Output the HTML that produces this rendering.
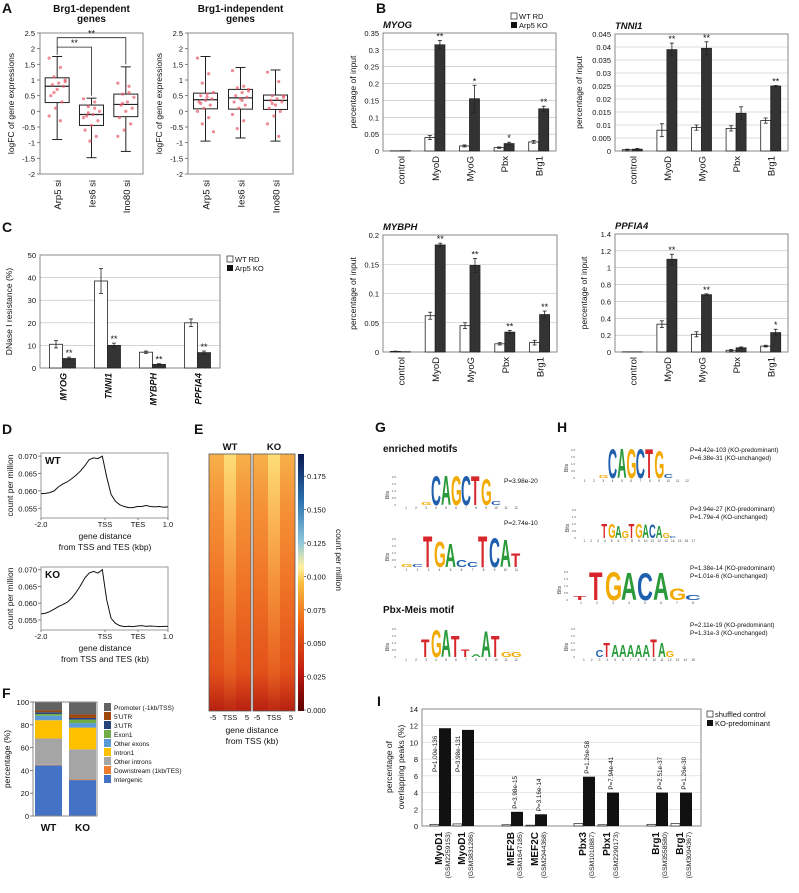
<!DOCTYPE html>
<html><head><meta charset="utf-8"><title>Arp5 KO figure</title>
<style>
html,body{margin:0;padding:0;background:#fff;}
svg{display:block;font-family:"Liberation Sans",Arial,sans-serif;}
</style></head>
<body>
<svg id="fig" width="799" height="893" viewBox="0 0 799 893" xmlns="http://www.w3.org/2000/svg">
<defs>
<linearGradient id="hmBase" x1="0" y1="0" x2="0" y2="1">
<stop offset="0" stop-color="#f6b04a"/><stop offset="0.2" stop-color="#f59238"/>
<stop offset="0.5" stop-color="#f07426"/><stop offset="0.85" stop-color="#e2501a"/><stop offset="1" stop-color="#b82010"/>
</linearGradient>
<linearGradient id="hmStripe" x1="0" y1="0" x2="0" y2="1">
<stop offset="0" stop-color="#fff08a" stop-opacity="0.7"/><stop offset="0.5" stop-color="#ffc860" stop-opacity="0.35"/><stop offset="1" stop-color="#ffb040" stop-opacity="0.05"/>
</linearGradient>
<radialGradient id="hmTop" cx="0.5" cy="0" r="0.5">
<stop offset="0" stop-color="#3a78b8" stop-opacity="0.95"/><stop offset="0.4" stop-color="#9cc8d8" stop-opacity="0.7"/><stop offset="1" stop-color="#f8e080" stop-opacity="0"/>
</radialGradient>
<linearGradient id="cbar" x1="0" y1="1" x2="0" y2="0">
<stop offset="0" stop-color="#5a0000"/><stop offset="0.15" stop-color="#c01a10"/><stop offset="0.35" stop-color="#ee6a18"/>
<stop offset="0.5" stop-color="#f8c040"/><stop offset="0.56" stop-color="#fff2a0"/><stop offset="0.66" stop-color="#8cc4dc"/>
<stop offset="0.82" stop-color="#2a70b0"/><stop offset="1" stop-color="#0a1850"/>
</linearGradient>
<clipPath id="clipWT"><rect x="209" y="454" width="42" height="257"/></clipPath>
<clipPath id="clipKO"><rect x="253" y="454" width="42" height="257"/></clipPath>
</defs>
</svg>
<script>
// ---------- data ----------
const boxCatsA = ["Arp5 si","Ies6 si","Ino80 si"];
const boxA1 = [[-0.9,0.28,0.8,1.07,1.75],[-1.48,-0.45,-0.1,0.2,0.42],[-1.28,-0.17,0.22,0.55,1.42]];
const boxA2 = [[-0.95,0.08,0.37,0.58,1.75],[-0.85,0.07,0.43,0.7,1.4],[-0.95,0.06,0.35,0.52,1.32]];
const dotsA1 = [[1.7,1.4,1.1,1.0,0.9,0.85,0.8,0.7,0.5,0.3,0.1,-0.15,-0.3,0.6,0.95],
 [0.4,0.3,0.15,0.0,-0.1,-0.15,-0.3,-0.45,-0.6,-0.8,-0.95,-0.2,0.1,-0.05],
 [0.9,0.8,0.55,0.45,0.3,0.2,0.1,0.0,-0.2,-0.4,-0.6,-0.8,0.6,0.25]];
const dotsA2 = [[1.7,1.2,0.9,0.6,0.55,0.5,0.4,0.35,0.3,0.2,0.1,0.0,-0.2,-0.4,-0.65,0.45,0.25],
 [1.3,0.8,0.75,0.7,0.6,0.5,0.45,0.4,0.3,0.2,0.1,-0.1,-0.3,-0.55,0.65,0.35],
 [1.25,0.95,0.5,0.45,0.4,0.35,0.3,0.2,0.1,0.0,-0.15,-0.4,-0.8,0.25,0.5]];
const ticksA = ["-2","-1.5","-1","-0.5","0","0.5","1","1.5","2","2.5"];

const catsB = ["control","MyoD","MyoG","Pbx","Brg1"];
const myogWT = [0.0005,0.040,0.015,0.010,0.027], myogKO = [0.001,0.315,0.155,0.022,0.125];
const myogWTe = [0,0.006,0.003,0.002,0.004], myogKOe = [0,0.013,0.04,0.004,0.008];
const myogStars = ["","**","*","*","**"];
const myogTicks = ["0","0.05","0.1","0.15","0.2","0.25","0.3","0.35"];
const tnniWT = [0.0005,0.008,0.009,0.0087,0.0117], tnniKO = [0.0007,0.039,0.0395,0.0145,0.025];
const tnniWTe = [0.0002,0.0025,0.001,0.001,0.001], tnniKOe = [0.0003,0.0025,0.0025,0.0025,0.0002];
const tnniStars = ["","**","**","","**"];
const tnniTicks = ["0","0.005","0.01","0.015","0.02","0.025","0.03","0.035","0.04","0.045"];
const mybWT = [0.001,0.062,0.045,0.014,0.016], mybKO = [0.0005,0.183,0.148,0.034,0.064];
const mybWTe = [0.0005,0.006,0.005,0.002,0.004], mybKOe = [0,0.003,0.012,0.003,0.006];
const mybStars = ["","**","**","**","**"];
const mybTicks = ["0","0.05","0.1","0.15","0.2"];
const ppfWT = [0.002,0.33,0.21,0.02,0.07], ppfKO = [0.002,1.1,0.68,0.05,0.23];
const ppfWTe = [0,0.04,0.03,0.01,0.01], ppfKOe = [0,0.06,0.01,0.01,0.04];
const ppfStars = ["","**","**","","*"];
const ppfTicks = ["0","0.2","0.4","0.6","0.8","1","1.2","1.4"];

const catsC = ["MYOG","TNNI1","MYBPH","PPFIA4"];
const dnWT = [10.5,38.5,7,20], dnKO = [4.2,10,1.6,6.8];
const dnWTe = [1.6,5.5,0.5,1.7], dnKOe = [0.6,1,0.3,0.7];
const dnStars = ["**","**","**","**"];
const dnTicks = ["0","10","20","30","40","50"];

const profWT = [0.0592,0.0593,0.0595,0.0600,0.0612,0.0620,0.0626,0.0635,0.0645,0.0657,0.0672,0.0690,0.0695,0.0693,0.0700,0.0640,0.0590,0.0570,0.0560,0.0555,0.0552,0.0552,0.0555,0.0555,0.0558,0.0555,0.0554,0.0555,0.0553,0.0554];
const profKO = [0.0568,0.0570,0.0575,0.0582,0.0590,0.0596,0.0603,0.0615,0.0632,0.0652,0.0675,0.0690,0.0695,0.0690,0.0700,0.0610,0.0555,0.0540,0.0533,0.0530,0.0531,0.0530,0.0532,0.0533,0.0531,0.0532,0.0531,0.0530,0.0531,0.0531];
const profTicks = ["0.055","0.060","0.065","0.070"];
const cbTicks = ["0.000","0.025","0.050","0.075","0.100","0.125","0.150","0.175"];

const annoCats = ["Intergenic","Downstream (1kb/TES)","Other introns","Intron1","Other exons","Exon1","3'UTR","5'UTR","Promoter (-1kb/TSS)"];
const annoColors = ["#4472c4","#ed7d31","#a5a5a5","#ffc000","#5b9bd5","#70ad47","#264478","#9e480e","#636363"];
const annoWT = [44.5,0.5,23,16,4,1.5,1.5,1.5,7.5];
const annoKO = [31.5,0.5,26.5,19,4,3,1.5,3,10.5];

const ovCats = ["MyoD1","MyoD1","MEF2B","MEF2C","Pbx3","Pbx1","Brg1","Brg1"];
const ovGsm = ["(GSM2259153)","(GSM3831286)","(GSM1647185)","(GSM2944368)","(GSM1010887)","(GSM2290173)","(GSM3558580)","(GSM3094367)"];
const ovShuf = [0.2,0.25,0.15,0.1,0.3,0.15,0.2,0.3];
const ovKO = [11.7,11.5,1.7,1.4,5.9,4.0,4.0,4.0];
const ovP = ["P=1.00e-136","P=3.98e-131","P=3.98e-15","P=3.16e-14","P=1.26e-58","P=7.94e-41","P=2.51e-37","P=1.26e-30"];
const ovTicks = ["0","2","4","6","8","10","12","14"];

// ---------- helpers ----------
const NS = "http://www.w3.org/2000/svg";
const svg = document.getElementById("fig");
function mk(tag, attrs, name, parent) {
  const el = document.createElementNS(NS, tag);
  for (const k in attrs) el.setAttribute(k, attrs[k]);
  
  
  (parent || svg).appendChild(el);
  return el;
}
function tx(x, y, s, attrs, name, parent) {
  const a = Object.assign({x: x, y: y, "font-size": 8, fill: "#111"}, attrs || {});
  const el = mk("text", a, name, parent);
  el.textContent = s;
  return el;
}
function rtx(x, y, s, attrs, name) {
  const a = Object.assign({transform: "rotate(-90 " + x + " " + y + ")"}, attrs || {});
  return tx(x, y, s, a, name);
}
function line(x1,y1,x2,y2,st,w,name){return mk("line",{x1:x1,y1:y1,x2:x2,y2:y2,stroke:st,"stroke-width":w},name);}

// panel letters
[["A",2,13],["B",376,13],["C",2,232],["D",2,434],["E",194,434],["F",2,698],["G",375,432],["H",557,432],["I",377,706]].forEach(p=>{
  tx(p[1],p[2],p[0],{"font-size":14,"font-weight":"bold"},"panel-label-"+p[0].toLowerCase());
});

// ---------- Panel A ----------
function boxPanel(x0, x1, boxes, dots, title1, title2, key) {
  const yT = 33, yB = 174;
  const ys = v => yB - (v + 2) / 4.5 * (yB - yT);
  mk("rect",{x:x0,y:yT,width:x1-x0,height:yB-yT,fill:"none",stroke:"#888","stroke-width":1},key+"-plot-frame");
  ticksA.forEach((t,i)=>{
    const v = -2 + i*0.5;
    line(x0-3,ys(v),x0,ys(v),"#666",0.8,key+"-y-tick");
    tx(x0-5,ys(v)+3,t,{"text-anchor":"end","font-size":7.5},key+"-y-tick-label");
  });
  tx((x0+x1)/2,12,title1,{"text-anchor":"middle","font-size":10,"font-weight":"bold"},key+"-title");
  tx((x0+x1)/2,22,title2,{"text-anchor":"middle","font-size":10,"font-weight":"bold"},key+"-title-line2");
  rtx(x0-26,(yT+yB)/2,"logFC of gene expressions",{"text-anchor":"middle","font-size":8.5},key+"-y-axis-title");
  const gw = (x1-x0)/3;
  boxes.forEach((b,i)=>{
    const cx = x0 + gw*(i+0.5);
    line(cx,ys(b[0]),cx,ys(b[4]),"#222",1,key+"-whisker");
    line(cx-5,ys(b[0]),cx+5,ys(b[0]),"#222",1,key+"-whisker-cap-low");
    line(cx-5,ys(b[4]),cx+5,ys(b[4]),"#222",1,key+"-whisker-cap-high");
    mk("rect",{x:cx-12,y:ys(b[3]),width:24,height:ys(b[1])-ys(b[3]),fill:"#fff",stroke:"#222","stroke-width":1},key+"-box-"+i);
    line(cx-12,ys(b[2]),cx+12,ys(b[2]),"#222",1.2,key+"-median");
    dots[i].forEach((d,j)=>{
      const off = ((j*7)%11 - 5) * 1.6;
      mk("circle",{cx:cx+off,cy:ys(d),r:1.6,fill:"#e85a6a","fill-opacity":0.7},key+"-dot");
    });
    rtx(cx+4,180,boxCatsA[i],{"text-anchor":"end","font-size":9.5},key+"-x-label");
  });
  return ys;
}
const ysA = boxPanel(40,143,boxA1,dotsA1,"Brg1-dependent","genes","boxplot-dependent");
boxPanel(188,293,boxA2,dotsA2,"Brg1-independent","genes","boxplot-independent");
(function(){
  const c0=40+103/6, c1=40+103/2, c2=40+103*5/6;
  const y1=ysA(2.05), y2=ysA(2.35);
  mk("polyline",{points:`${c0},${ysA(1.8)} ${c0},${y1} ${c1},${y1} ${c1},${ysA(0.5)}`,fill:"none",stroke:"#222","stroke-width":0.8},"sig-bracket-ies6");
  mk("polyline",{points:`${c0},${y1} ${c0},${y2} ${c2},${y2} ${c2},${ysA(1.5)}`,fill:"none",stroke:"#222","stroke-width":0.8},"sig-bracket-ino80");
  tx((c0+c1)/2,y1-1,"**",{"text-anchor":"middle","font-size":9},"sig-stars-ies6");
  tx((c0+c2)/2,y2-1,"**",{"text-anchor":"middle","font-size":9},"sig-stars-ino80");
})();

// ---------- Bar chart helper (B, C) ----------
function barChart(o) {
  const ys = v => o.yB - v / o.max * (o.yB - o.yT);
  const n = o.cats.length, gw = (o.x1 - o.x0) / n;
  o.ticks.forEach((t,i)=>{
    const v = o.max * i / (o.ticks.length-1);
    if (i>0) line(o.x0,ys(v),o.x1,ys(v),"#bbb",0.6,o.key+"-gridline");
    tx(o.x0-4,ys(v)+3,t,{"text-anchor":"end","font-size":7.5},o.key+"-y-tick-label");
  });
  mk("rect",{x:o.x0,y:o.yT,width:o.x1-o.x0,height:o.yB-o.yT,fill:"none",stroke:"#888","stroke-width":1},o.key+"-plot-frame");
  o.cats.forEach((c,i)=>{
    const cx = o.x0 + gw*(i+0.5);
    const pairs = [[o.wt[i],o.wte[i],cx-o.bw,"#fff","wt"],[o.ko[i],o.koe[i],cx,"#333","ko"]];
    pairs.forEach(p=>{
      mk("rect",{x:p[2],y:ys(p[0]),width:o.bw,height:o.yB-ys(p[0]),fill:p[3],stroke:"#222","stroke-width":0.8},o.key+"-bar-"+p[4]+"-"+c.toLowerCase());
      if (p[1]>0){
        const ex = p[2]+o.bw/2;
        line(ex,ys(p[0]+p[1]),ex,ys(Math.max(0,p[0]-p[1])),"#222",0.8,o.key+"-error-bar");
        line(ex-2,ys(p[0]+p[1]),ex+2,ys(p[0]+p[1]),"#222",0.8,o.key+"-error-cap");
        line(ex-2,ys(Math.max(0,p[0]-p[1])),ex+2,ys(Math.max(0,p[0]-p[1])),"#222",0.8,o.key+"-error-cap");
      }
    });
    if (o.stars[i]) tx(cx+o.bw/2,ys(o.ko[i]+o.koe[i])-1,o.stars[i],{"text-anchor":"middle","font-size":9},o.key+"-sig-stars");
    rtx(cx+4,o.yB+5,c,{"text-anchor":"end","font-size":o.catSize||9.5,"font-style":o.italic?"italic":"normal","font-weight":o.italic?"bold":"normal"},o.key+"-x-label");
  });
  if (o.title) tx(o.x0,o.yT-5,o.title,{"font-size":9.5,"font-weight":"bold","font-style":"italic"},o.key+"-title");
  rtx(o.ylabX,(o.yT+o.yB)/2,o.ylab,{"text-anchor":"middle","font-size":8.5},o.key+"-y-axis-title");
}
barChart({key:"chip-myog",x0:383,x1:556,yT:33,yB:151,max:0.35,ticks:myogTicks,cats:catsB,wt:myogWT,ko:myogKO,wte:myogWTe,koe:myogKOe,stars:myogStars,bw:10,title:"MYOG",ylab:"percentage of input",ylabX:356});
barChart({key:"chip-tnni1",x0:615,x1:788,yT:34,yB:151,max:0.045,ticks:tnniTicks,cats:catsB,wt:tnniWT,ko:tnniKO,wte:tnniWTe,koe:tnniKOe,stars:tnniStars,bw:10,title:"TNNI1",ylab:"percentage of input",ylabX:582});
barChart({key:"chip-mybph",x0:383,x1:557,yT:235,yB:352,max:0.2,ticks:mybTicks,cats:catsB,wt:mybWT,ko:mybKO,wte:mybWTe,koe:mybKOe,stars:mybStars,bw:10,title:"MYBPH",ylab:"percentage of input",ylabX:356});
barChart({key:"chip-ppfia4",x0:615,x1:788,yT:234,yB:352,max:1.4,ticks:ppfTicks,cats:catsB,wt:ppfWT,ko:ppfKO,wte:ppfWTe,koe:ppfKOe,stars:ppfStars,bw:10,title:"PPFIA4",ylab:"percentage of input",ylabX:587});
barChart({key:"dnase",x0:40,x1:220,yT:255,yB:368,max:50,ticks:dnTicks,cats:catsC,wt:dnWT,ko:dnKO,wte:dnWTe,koe:dnKOe,stars:dnStars,bw:13,italic:true,catSize:9,ylab:"DNase I resistance (%)",ylabX:12});

[[511,13,"chip"],[227,256,"dnase"]].forEach(L=>{
  mk("rect",{x:L[0],y:L[1],width:6,height:6,fill:"#fff",stroke:"#222","stroke-width":0.7},L[2]+"-legend-wt-swatch");
  tx(L[0]+8,L[1]+6,"WT RD",{"font-size":7.5},L[2]+"-legend-wt-label");
  mk("rect",{x:L[0],y:L[1]+9,width:6,height:6,fill:"#111"},L[2]+"-legend-ko-swatch");
  tx(L[0]+8,L[1]+15,"Arp5 KO",{"font-size":7.5},L[2]+"-legend-ko-label");
});

// ---------- Panel D ----------
function profile(vals, yTop, yBot, v0, v1, lab, unit, key) {
  const x0 = 41, x1 = 168;
  const ys = v => yBot - (v - v0) / (v1 - v0) * (yBot - yTop);
  mk("rect",{x:x0,y:yTop,width:x1-x0,height:yBot-yTop,fill:"none",stroke:"#999","stroke-width":1},key+"-frame");
  profTicks.forEach((t,i)=>{
    const v = 0.055 + i*0.005;
    line(x0-3,ys(v),x0,ys(v),"#666",0.8,key+"-y-tick");
    tx(x0-4,ys(v)+3,t,{"text-anchor":"end","font-size":7.5},key+"-y-tick-label");
  });
  const xs = i => x0 + i * (x1 - x0) / (vals.length - 1);
  mk("polyline",{points:vals.map((v,i)=>xs(i)+","+ys(v)).join(" "),fill:"none",stroke:"#111","stroke-width":1},key+"-line");
  tx(x0+4,yTop+11,lab,{"font-size":10,"font-weight":"bold"},key+"-sample-label");
  [["-2.0",x0],["TSS",105],["TES",138],["1.0",x1]].forEach(t=>{
    line(t[1],yBot,t[1],yBot+2,"#666",0.8,key+"-x-tick");
    tx(t[1],yBot+9,t[0],{"text-anchor":"middle","font-size":7.5},key+"-x-tick-label");
  });
  tx(105,yBot+21,"gene distance",{"text-anchor":"middle","font-size":8.5},key+"-x-title");
  tx(105,yBot+32,"from TSS and TES ("+unit+")",{"text-anchor":"middle","font-size":8.5},key+"-x-title-line2");
  rtx(13,(yTop+yBot)/2,"count per million",{"text-anchor":"middle","font-size":8.5},key+"-y-title");
}
profile(profWT,453,518,0.0522,0.0709,"WT","kbp","profile-wt");
profile(profKO,567,630,0.0520,0.0708,"KO","kb","profile-ko");

// ---------- Panel E ----------
[[209,"WT","url(#clipWT)"],[253,"KO","url(#clipKO)"]].forEach((h,k)=>{
  const w = 42, yT = 454, yB = 711, key = "heatmap-"+h[1].toLowerCase();
  const g = mk("g",{"clip-path":h[2]},key+"-group");
  mk("rect",{x:h[0],y:yT,width:w,height:yB-yT,fill:"url(#hmBase)"},key,g);
  mk("rect",{x:h[0]+w/2-6,y:yT,width:12,height:yB-yT,fill:"url(#hmStripe)"},key+"-center-stripe",g);
  mk("ellipse",{cx:h[0]+w/2,cy:yT,rx:k?24:16,ry:k?34:22,fill:"url(#hmTop)"},key+"-tss-signal",g);
  mk("rect",{x:h[0],y:yT,width:w,height:yB-yT,fill:"none",stroke:"#555","stroke-width":0.8},key+"-frame");
  tx(h[0]+w/2,450,h[1],{"text-anchor":"middle","font-size":9.5,"font-weight":"bold"},key+"-title");
  [["-5",h[0]+4],["TSS",h[0]+w/2],["5",h[0]+w-4]].forEach(t=>tx(t[1],720,t[0],{"text-anchor":"middle","font-size":7.5},key+"-x-tick-label"));
});
tx(252,733,"gene distance",{"text-anchor":"middle","font-size":8.5},"heatmap-x-title");
tx(252,744,"from TSS (kb)",{"text-anchor":"middle","font-size":8.5},"heatmap-x-title-line2");
mk("rect",{x:298,y:454,width:6,height:257,fill:"url(#cbar)"},"colorbar");
cbTicks.forEach((t,i)=>{
  const y = 710 - i * 33.4;
  line(304,y,306,y,"#444",0.7,"colorbar-tick");
  tx(307,y+3,t,{"font-size":7.5},"colorbar-tick-label");
});
tx(336,560,"count per million",{"text-anchor":"middle","font-size":8.5,transform:"rotate(90 336 560)"},"colorbar-title");

// ---------- Panel F ----------
(function(){
  const x0=33,x1=97,yT=702,yB=816;
  const ys = v => yB - v/100*(yB-yT);
  [[annoWT,35,62,"WT"],[annoKO,69,96,"KO"]].forEach(b=>{
    let acc = 0;
    b[0].forEach((v,i)=>{
      mk("rect",{x:b[1],y:ys(acc+v),width:b[2]-b[1],height:ys(acc)-ys(acc+v),fill:annoColors[i]},"anno-"+b[3].toLowerCase()+"-segment");
      acc += v;
    });
    tx((b[1]+b[2])/2,831,b[3],{"text-anchor":"middle","font-size":10,"font-weight":"bold"},"anno-x-label");
  });
  mk("rect",{x:x0,y:yT,width:x1-x0,height:yB-yT,fill:"none",stroke:"#888","stroke-width":1},"anno-frame");
  for(let i=0;i<=5;i++){
    line(x0-3,ys(i*20),x0,ys(i*20),"#666",0.8,"anno-y-tick");
    tx(x0-4,ys(i*20)+3,String(i*20),{"text-anchor":"end","font-size":7.5},"anno-y-tick-label");
  }
  rtx(10,(yT+yB)/2,"percentage (%)",{"text-anchor":"middle","font-size":8.5},"anno-y-title");
  for(let i=annoCats.length-1, k=0;i>=0;i--,k++){
    mk("rect",{x:104,y:703+k*9,width:7,height:8,fill:annoColors[i]},"anno-legend-swatch");
    tx(114,710+k*9,annoCats[i],{"font-size":6.5},"anno-legend-label");
  }
})();

// ---------- Motif logos (G, H) ----------
const letterColor = {A:"#2a9a3a",C:"#1f5fae",G:"#f2a900",T:"#d7262b"};
function motif(x0, pw, base, letters, heights, key, nPos) {
  letters.split("").forEach((L,i)=>{
    if (L==="-" || heights[i]<=0) return;
    const h = heights[i], sx = pw/8.7, sy = h/8.7;
    const cx = x0 + pw*i;
    tx(0,0,L,{"font-size":12,"font-weight":"bold",fill:letterColor[L],transform:`translate(${cx},${base}) scale(${sx},${sy})`},key+"-letter");
  });
  for(let i=0;i<nPos;i++) tx(x0+pw*(i+0.5),base+4,String(i+1),{"text-anchor":"middle","font-size":3.2,fill:"#444"},key+"-pos-label");
  rtx(x0-12,base-10,"Bits",{"text-anchor":"middle","font-size":5,fill:"#444"},key+"-bits-label");
  ["0","0.5","1.0","1.5","2.0"].forEach((t,i)=>tx(x0-5,base-i*7+1,t,{"text-anchor":"end","font-size":3,fill:"#555"},key+"-bits-tick"));
}
const gM1L = "--GCAGCTGC--", gM1H = [0,0,3,30,30,30,30,30,27,4,0,0];
const gM2L = "GCTGACCTCAT", gM2H = [3,3,32,26,24,7,5,32,30,28,14];
const gM3L = "--TGATTAATGG", gM3H = [0,0,18,28,28,22,8,3,27,22,5,5];
const hM1L = "--GCAGCTGC--", hM1H = [0,0,3,30,30,30,30,30,28,4,0,0];
const hM2L = "---TGAGTGACAGC---", hM2H = [0,0,0,15,15,13,7,15,15,14,14,13,5,2,0,0,0];
const hM3L = "TTGACAGC", hM3H = [4,29,29,28,28,28,12,5];
const hM4L = "--CTAAAAATAG---", hM4H = [0,0,7,15,13,13,13,13,13,18,15,6,0,0,0];
tx(383,452,"enriched motifs",{"font-size":10,"font-weight":"bold"},"motif-enriched-title");
tx(383,613,"Pbx-Meis motif",{"font-size":10,"font-weight":"bold"},"motif-pbxmeis-title");
motif(401,10,505,gM1L,gM1H,"motif-g1",12);
tx(504,483,"P=3.98e-20",{"font-size":6.5},"motif-g1-pvalue");
motif(401,11,567,gM2L,gM2H,"motif-g2",11);
tx(504,525,"P=2.74e-10",{"font-size":6.5},"motif-g2-pvalue");
motif(401,10,657,gM3L,gM3H,"motif-g3",12);
motif(580,9.3,478,hM1L,hM1H,"motif-h1",12);
motif(581,6.8,538,hM2L,hM2H,"motif-h2",17);
motif(573,16,600,hM3L,hM3H,"motif-h3",8);
motif(580,7.8,657,hM4L,hM4H,"motif-h4",15);
[[452,"P=4.42e-103 (KO-predominant)","P=6.38e-31 (KO-unchanged)"],[511,"P=3.94e-27 (KO-predominant)","P=1.79e-4 (KO-unchanged)"],
 [570,"P=1.38e-14 (KO-predominant)","P=1.01e-6 (KO-unchanged)"],[627,"P=2.11e-19 (KO-predominant)","P=1.31e-3 (KO-unchanged)"]].forEach((p,i)=>{
  tx(690,p[0],p[1],{"font-size":6.3},"motif-h"+(i+1)+"-pvalue-predominant");
  tx(690,p[0]+8,p[2],{"font-size":6.3},"motif-h"+(i+1)+"-pvalue-unchanged");
});

// ---------- Panel I ----------
(function(){
  const x0=422,x1=701,yT=709,yB=826,max=14;
  const ys = v => yB - v/max*(yB-yT);
  ovTicks.forEach((t,i)=>{
    const v = i*2;
    if(i>0) line(x0,ys(v),x1,ys(v),"#ccc",0.5,"overlap-gridline");
    tx(x0-4,ys(v)+3,t,{"text-anchor":"end","font-size":7.5},"overlap-y-tick-label");
  });
  mk("rect",{x:x0,y:yT,width:x1-x0,height:yB-yT,fill:"none",stroke:"#888","stroke-width":1},"overlap-frame");
  const groupStart = [430,453,502,526,574,598,647,671];
  ovCats.forEach((c,i)=>{
    const gx = groupStart[i];
    mk("rect",{x:gx,y:ys(ovShuf[i]),width:9,height:yB-ys(ovShuf[i]),fill:"#fff",stroke:"#222","stroke-width":0.7},"overlap-bar-shuffled");
    mk("rect",{x:gx+9,y:ys(ovKO[i]),width:12,height:yB-ys(ovKO[i]),fill:"#111"},"overlap-bar-ko");
    const tall = ovKO[i] > 8;
    const px = tall ? gx+7 : gx+15, py = tall ? 772 : ys(ovKO[i])-3;
    rtx(px,py,ovP[i],{"font-size":6.3},"overlap-pvalue");
    rtx(gx+12,832,c,{"text-anchor":"end","font-size":10,"font-weight":"bold"},"overlap-x-label");
    rtx(gx+20,832,ovGsm[i],{"text-anchor":"end","font-size":6.8},"overlap-x-gsm");
  });
  rtx(392,767,"percentage of",{"text-anchor":"middle","font-size":8.5},"overlap-y-title");
  rtx(404,767,"overlapping peaks (%)",{"text-anchor":"middle","font-size":8.5},"overlap-y-title-line2");
  mk("rect",{x:707,y:711,width:6,height:6,fill:"#fff",stroke:"#222","stroke-width":0.7},"overlap-legend-shuffled-swatch");
  tx(715,717,"shuffled control",{"font-size":7.5},"overlap-legend-shuffled-label");
  mk("rect",{x:707,y:720,width:6,height:6,fill:"#111"},"overlap-legend-ko-swatch");
  tx(715,726,"KO-predominant",{"font-size":7.5},"overlap-legend-ko-label");
})();
</script>
</body></html>
